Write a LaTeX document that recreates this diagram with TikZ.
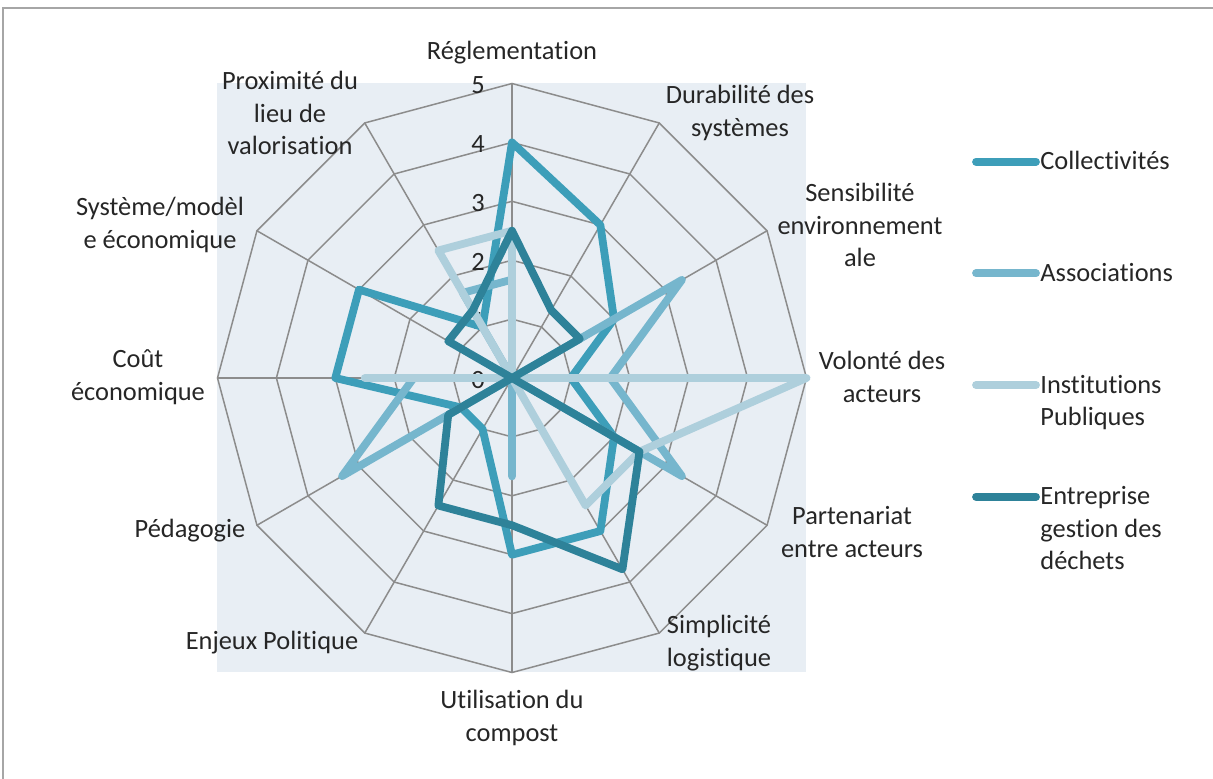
\documentclass[tikz,border=0pt]{standalone}
\usepackage{fontspec}
\setmainfont{Carlito}[Ligatures={NoCommon,NoContextual}]
\usepackage{xcolor}

\definecolor{collcol}{HTML}{3D9EB9}
\definecolor{assocol}{HTML}{76B6CD}
\definecolor{instcol}{HTML}{AECFDC}
\definecolor{entrcol}{HTML}{2E8299}
\definecolor{plotbg}{HTML}{E8EEF4}
\definecolor{gridcol}{HTML}{8C8C8C}
\definecolor{framecol}{HTML}{A6A6A6}
\definecolor{txtcol}{HTML}{262626}

% one unit = one step of the scale (0 .. 5)
\newcommand{\ru}{58.9}
% #1 prefix of the points, #2 style, #3 the 12 values (clockwise from the top)
\newcommand{\radarline}[3]{%
  \foreach \v [count=\i from 0] in {#3}
    \coordinate (#1\i) at ({90-30*\i}:{\v*\ru});
  \draw[#2] (#10) \foreach \i in {1,...,11} {-- (#1\i)} -- cycle;
}

\begin{document}
\begin{tikzpicture}[x=0.5pt, y=0.5pt,
    lbl/.style={align=center, text=txtcol, inner sep=0pt,
      font=\fontsize{13.2}{16.25}\selectfont},
    leg/.style={lbl, align=left, anchor=base west},
    gridln/.style={draw=gridcol, line width=0.75pt},
    serie/.style={line width=3.9pt, line join=round, line cap=round},
    coll/.style={serie, draw=collcol},
    asso/.style={serie, draw=assocol},
    inst/.style={serie, draw=instcol},
    entr/.style={serie, draw=entrcol}]
    \useasboundingbox (-512,378) rectangle (701,-400);

    % Frame and plot area
    \draw[framecol, line width=0.75pt] (-509,-420) -- (-509,370) -- (720,370);
    \fill[plotbg] (-295,295) rectangle (294,-294);

    % Grid
    \foreach \a in {0,30,...,330}
        \draw[gridln] (0,0) -- (\a:5*\ru);
    \foreach \k in {1,...,5}
        \draw[gridln] (0:\k*\ru) \foreach \a in {30,60,...,330} {-- (\a:\k*\ru)} -- cycle;

    % Scale
    \foreach \k in {0,...,5}
        \node[lbl] (tick\k) at (-34,\k*\ru-2) {\k};

    % Series
    \radarline{c}{coll}{4,3,2,1,2,3,3,1,1,3,3,1}
    \radarline{a}{asso}{1.67,0,3.33,1.67,3.33,0,1.67,0,3.33,1.67,0,1.67}
    \radarline{p}{inst}{2.5,0,0,5,2.5,2.5,0,0,0,2.5,0,2.5}
    \radarline{e}{entr}{2.5,1.33,1.33,0,2.5,3.75,2.5,2.5,1.25,0,1.25,1.33}

    % Axis labels
    \node[lbl] (reglem) at (0,325) {Réglementation};
    \node[lbl] (durab) at (228,265) {Durabilité des\\systèmes};
    \node[lbl] (sensib) at (348,153) {Sensibilité\\environnement\\ale};
    \node[lbl] (volonte) at (370,1) {Volonté des\\acteurs};
    \node[lbl] (partenar) at (340,-154) {Partenariat\\entre acteurs};
    \node[lbl] (simplic) at (207,-265) {Simplicité\\logistique};
    \node[lbl] (utilis) at (0,-340) {Utilisation du\\compost};
    \node[lbl] (enjeux) at (-240,-265) {Enjeux Politique};
    \node[lbl] (pedago) at (-322,-153) {Pédagogie};
    \node[lbl] (cout) at (-374,1) {Coût\\économique};
    \node[lbl] (systeme) at (-352,153) {Système/modèl\\e économique};
    \node[lbl] (proxim) at (-222,265) {Proximité du\\lieu de\\valorisation};

    % Legend (base = last line)
    \draw[coll] (464,216.3) -- (524,216.3);
    \draw[asso] (464,104.7) -- (524,104.7);
    \draw[inst] (464,-7) -- (524,-7);
    \draw[entr] (464,-118.7) -- (524,-118.7);
    \node[leg] (legcoll) at (528,208.3) {Collectivités};
    \node[leg] (legasso) at (528,96.7) {Associations};
    \node[leg] (leginst) at (528,-47.5) {Institutions\\Publiques};
    \node[leg] (legentr) at (528,-191.7) {Entreprise\\gestion des\\déchets};
\end{tikzpicture}
\end{document}
